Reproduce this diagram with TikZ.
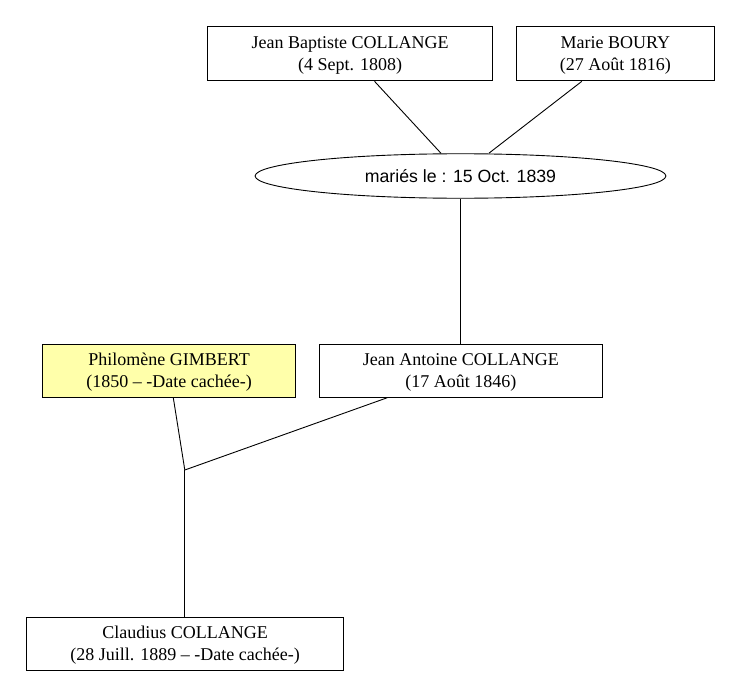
\documentclass[tikz,border=0pt]{standalone}
\usepackage{fontspec}
\setmainfont{Liberation Serif}
\newfontfamily\sansf{Liberation Sans}
\usetikzlibrary{shapes.geometric}
\definecolor{paleyellow}{RGB}{255,255,170}
\newcommand{\tup}{\rule{0pt}{15.5pt}}
\begin{document}
\begin{tikzpicture}[x=1pt,y=1pt,
  person/.style={draw, line width=0.9pt, rectangle, inner sep=0pt, align=center,
    minimum height=54pt, font=\fontsize{18}{22.3}\selectfont},
  union/.style={draw, line width=0.9pt, ellipse, inner sep=0pt,
    minimum width=410.8pt, minimum height=44.5pt, font=\sansf\fontsize{17.7}{21}\selectfont},
  link/.style={line width=0.9pt}]
\useasboundingbox (0,0) rectangle (741,-698);
\fill[white] (0,0) rectangle (741,-698);
\node[person, minimum width=284.7pt] (jb) at (350.15,-53.9) {\tup Jean Baptiste COLLANGE\\(4 Sept. 1808)};
\node[person, minimum width=197.4pt] (mb) at (615.3,-53.9) {\tup Marie BOURY\\(27 Août 1816)};
\node[union] (ell) at (460.5,-176) {mariés le : 15 Oct. 1839};
\node[person, minimum width=253.1pt, minimum height=53pt, fill=paleyellow] (pg) at (169.05,-370.8) {\tup Philomène GIMBERT\\(1850 – -Date cachée-)};
\node[person, minimum width=282.4pt, minimum height=53pt] (ja) at (460.9,-370.8) {\tup Jean Antoine COLLANGE\\(17 Août 1846)};
\node[person, minimum width=317.4pt, minimum height=53.4pt] (cl) at (185.1,-643.7) {\tup Claudius COLLANGE\\(28 Juill. 1889 – -Date cachée-)};
\coordinate (j) at (184.8,-470);
\draw[link] ([xshift=24.4pt]jb.south) -- ([xshift=-19.5pt]ell.north);
\draw[link] ([xshift=-33.5pt]mb.south) -- ([xshift=28.3pt]ell.north);
\draw[link] (ell.south) -- (ell.south |- ja.north);
\draw[link] ([xshift=4.25pt]pg.south) -- (j);
\draw[link] ([xshift=-73.7pt]ja.south) -- (j);
\draw[link] (j) -- (j |- cl.north);
\end{tikzpicture}
\end{document}
